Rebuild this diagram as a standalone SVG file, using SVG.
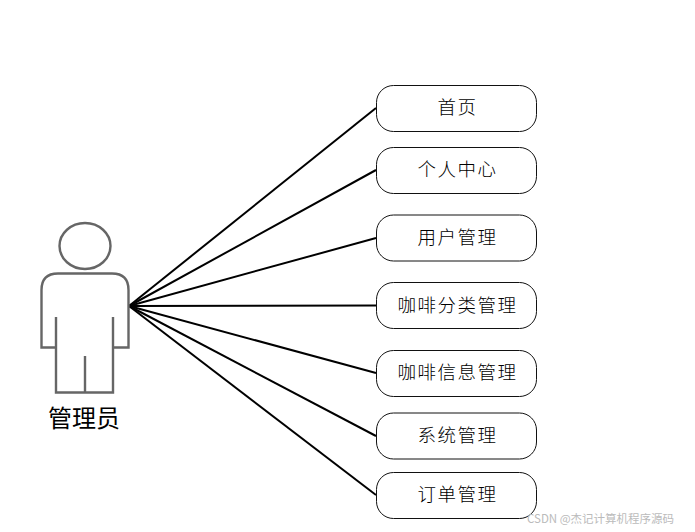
<svg xmlns="http://www.w3.org/2000/svg" width="695" height="532" viewBox="0 0 695 532">
<style>
.n{fill:#fff;stroke:#111;stroke-width:1}
.t{font-family:"Noto Sans CJK SC","Noto Sans CJK JP",sans-serif;font-size:18.500px;font-weight:300;letter-spacing:1.500px;fill:#000;text-anchor:middle}
.c{stroke:#000;stroke-width:2;fill:none}
.a{fill:none;stroke:#666;stroke-width:2.400}
</style>
<rect width="695" height="532" fill="#fff"/>
<g id="connectors">
<line class="c" x1="129" y1="306" x2="376" y2="108"/>
<line class="c" x1="129" y1="306" x2="376" y2="170"/>
<line class="c" x1="129" y1="306" x2="376" y2="238"/>
<line class="c" x1="129" y1="306" x2="376" y2="305.500"/>
<line class="c" x1="129" y1="306" x2="376" y2="373"/>
<line class="c" x1="129" y1="306" x2="376" y2="436"/>
<line class="c" x1="129" y1="306" x2="376" y2="495"/>
</g>
<g id="actor">
<ellipse class="a" cx="85" cy="246" rx="25.500" ry="23"/>
<path class="a" d="M56 317V347.500H41.500V290Q41.500 273.500 58 273.500H112Q128.500 273.500 128.500 290V347.500H113V317M56 347.500V392.500H113V347.500M85 392.500V356"/>
<text x="84" y="427" font-family="'Noto Sans CJK SC',sans-serif" font-size="24px" text-anchor="middle" fill="#000">管理员</text>
</g>
<g id="node1"><rect class="n" x="376.500" y="85.500" width="160" height="46" rx="17"/><text class="t" x="457.500" y="114">首页</text></g>
<g id="node2"><rect class="n" x="376.500" y="147.500" width="160" height="46" rx="17"/><text class="t" x="457.500" y="176">个人中心</text></g>
<g id="node3"><rect class="n" x="376.500" y="215" width="160" height="46" rx="17"/><text class="t" x="457.500" y="244">用户管理</text></g>
<g id="node4"><rect class="n" x="376.500" y="282.500" width="160" height="46" rx="17"/><text class="t" x="457.500" y="312">咖啡分类管理</text></g>
<g id="node5"><rect class="n" x="376.500" y="350.500" width="160" height="46" rx="17"/><text class="t" x="457.500" y="379">咖啡信息管理</text></g>
<g id="node6"><rect class="n" x="376.500" y="413" width="160" height="46" rx="17"/><text class="t" x="457.500" y="442">系统管理</text></g>
<g id="node7"><rect class="n" x="376.500" y="472.500" width="160" height="46" rx="17"/><text class="t" x="457.500" y="501">订单管理</text></g>
<text x="527" y="523" font-family="'Noto Sans CJK SC',sans-serif" font-size="11.500px" fill="#bbb">CSDN @杰记计算机程序源码</text>
</svg>
